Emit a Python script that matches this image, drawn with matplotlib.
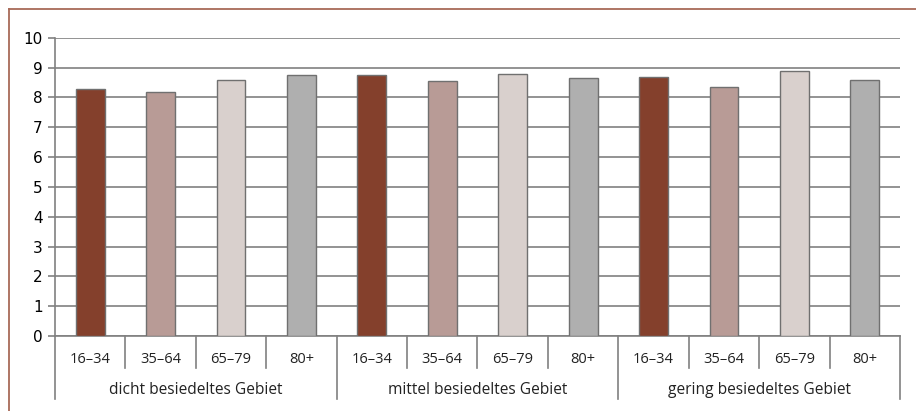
import matplotlib
matplotlib.use("Agg")
import matplotlib.pyplot as plt
from matplotlib.lines import Line2D

groups = ["dicht besiedeltes Gebiet", "mittel besiedeltes Gebiet", "gering besiedeltes Gebiet"]
ages = ["16–34", "35–64", "65–79", "80+"]
values = [
    [8.27, 8.17, 8.57, 8.74],
    [8.74, 8.55, 8.77, 8.65],
    [8.68, 8.36, 8.88, 8.58],
]
colors = ["#84402C", "#B89B96", "#D9D0CD", "#AFAFAF"]
yticks = list(range(0, 11))

W, H = 916, 411
fig = plt.figure(figsize=(W / 100, H / 100), dpi=100)
x0, x1, y0, y1 = 55, 900, 336, 37.7
ax = fig.add_axes([x0 / W, 1 - y0 / H, (x1 - x0) / W, (y0 - y1) / H])

n = len(groups) * len(ages)
for gi, g in enumerate(groups):
    for ai, a in enumerate(ages):
        i = gi * len(ages) + ai
        ax.bar(i, values[gi][ai], width=0.41, color=colors[ai],
               edgecolor="#707070", linewidth=1.0, zorder=3)

ax.set_xlim(-0.5, n - 0.5)
ax.set_ylim(0, 10)
ax.set_yticks(yticks)
ax.set_yticklabels([str(t) for t in yticks], fontsize=11, family="DejaVu Sans")
ax.yaxis.grid(True, color="#808080", linewidth=1.2, zorder=0)
ax.set_axisbelow(True)
ax.tick_params(axis="y", length=5, width=1.2, color="#808080", pad=4)
ax.set_xticks([])
for s in ["top", "right"]:
    ax.spines[s].set_visible(False)
ax.spines["left"].set_color("#808080")
ax.spines["left"].set_linewidth(1.2)
ax.spines["bottom"].set_color("#808080")
ax.spines["bottom"].set_linewidth(1.2)

def px2fig(x, y):
    return x / W, 1 - y / H

cat_w = (x1 - x0) / n
lc = "#808080"
for i in range(n + 1):
    xp = x0 + i * cat_w
    bottom = 399 if i % len(ages) == 0 else 368
    fx, fy0 = px2fig(xp, y0)
    _, fy1 = px2fig(xp, bottom)
    fig.add_artist(Line2D([fx, fx], [fy0, fy1], color=lc, linewidth=1.2))

for i in range(n):
    xp = x0 + (i + 0.5) * cat_w
    fx, fy = px2fig(xp, 359)
    fig.text(fx, fy, ages[i % len(ages)], ha="center", va="center",
             fontsize=10.5, family="Open Sans", color="#222222")

for gi, g in enumerate(groups):
    xp = x0 + (gi * len(ages) + len(ages) / 2) * cat_w
    fx, fy = px2fig(xp, 390)
    fig.text(fx, fy, g, ha="center", va="center", fontsize=11.2,
             family="Open Sans", color="#222222")

bc = "#A86A58"
fig.add_artist(Line2D([8.5 / W, 1], [1 - 9.5 / H, 1 - 9.5 / H], color=bc, linewidth=1.3))
fig.add_artist(Line2D([8.5 / W, 8.5 / W], [0, 1 - 9.5 / H], color=bc, linewidth=1.3))

fig.savefig("out.png", dpi=100)
